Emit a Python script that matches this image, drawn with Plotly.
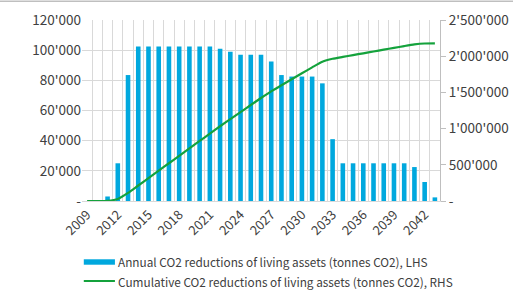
import plotly.graph_objects as go

years = list(range(2009, 2044))
annual = [0, 0, 3000, 25000, 83500,
          102500, 102500, 102500, 102500, 102500, 102500, 102500, 102500,
          101000, 99000, 97000, 97000, 97000, 92500, 83500,
          82500, 82500, 82500, 78000, 41000,
          25000, 25000, 25000, 25000, 25000, 25000, 25000,
          22500, 12600, 2400]
cumulative = [0, 0, 3000, 28000, 111500, 214000, 316500, 419000, 521500,
              624000, 726500, 829000, 931500, 1032500, 1131500, 1228500,
              1325500, 1422500, 1515000, 1598500, 1681000, 1763500, 1846000,
              1924000, 1965000, 1990000, 2015000, 2040000, 2065000, 2090000,
              2115000, 2140000, 2162500, 2175100, 2177500]
x_ticks = list(range(2009, 2043, 3))
lhs_ticks = [0, 20000, 40000, 60000, 80000, 100000, 120000]
lhs_text = ["-", "20'000", "40'000", "60'000", "80'000", "100'000", "120'000"]
rhs_ticks = [0, 500000, 1000000, 1500000, 2000000, 2500000]
rhs_text = ["-", "500'000", "1'000'000", "1'500'000", "2'000'000", "2'500'000"]
name_bar = "Annual CO2 reductions of living assets (tonnes CO2), LHS"
name_line = "Cumulative CO2 reductions of living assets (tonnes CO2), RHS"

BLUE = "#00A8DE"
GREEN = "#14A23C"
GRID = "#D9D9D9"
TXT = "#404040"
FONT = "Noto Sans CJK JP"

fig = go.Figure()
fig.add_trace(go.Bar(x=years, y=annual, name=name_bar, marker_color=BLUE,
                     marker_line_width=0, width=0.45, showlegend=False))
fig.add_trace(go.Scatter(x=years, y=cumulative, name=name_line, yaxis="y2",
                         mode="lines", line=dict(color=GREEN, width=2.2, shape="spline", smoothing=0.6),
                         showlegend=False))

fig.update_layout(
    width=513, height=292,
    margin=dict(l=82, r=73, t=20, b=91, autoexpand=False),
    paper_bgcolor="white", plot_bgcolor="white",
    font=dict(family=FONT, color=TXT, size=13),
    xaxis=dict(range=[2008.5, 2043.5], tickvals=x_ticks, tickformat="d", automargin=False,
               tickangle=-45, showgrid=False, showline=True, linecolor=GRID,
               linewidth=1, ticks="", zeroline=False, tickfont=dict(size=13, color=TXT),
               minor=dict(dtick=1, tick0=2008.5, showgrid=True, gridcolor=GRID, gridwidth=1)),
    yaxis=dict(range=[0, 120000], tickvals=lhs_ticks, ticktext=lhs_text, automargin=False,
               showgrid=True, gridcolor=GRID, gridwidth=1, zeroline=False,
               showline=False, ticks="", ticklen=0, tickfont=dict(size=13.5, color=TXT)),
    yaxis2=dict(range=[0, 2500000], tickvals=rhs_ticks, ticktext=rhs_text, automargin=False,
                overlaying="y", side="right", showgrid=False, zeroline=False,
                showline=True, linecolor="#BFBFBF", linewidth=1, ticks="outside",
                ticklen=5, tickcolor="#BFBFBF", tickfont=dict(size=13.5, color=TXT)),
    bargap=0.5,
)

# top border line
fig.add_shape(type="line", xref="paper", yref="paper", x0=-0.3, x1=1.3, y0=1.104, y1=1.104,
              line=dict(color="#BFBFBF", width=1.5))

# manual legend
leg_y1 = -0.337
leg_y2 = -0.442
fig.add_shape(type="rect", xref="paper", yref="paper",
              x0=0.005, x1=0.092, y0=leg_y1 - 0.015, y1=leg_y1 + 0.015,
              fillcolor=BLUE, line=dict(width=0))
fig.add_shape(type="line", xref="paper", yref="paper",
              x0=0.005, x1=0.092, y0=leg_y2, y1=leg_y2,
              line=dict(color=GREEN, width=2))
fig.add_annotation(text=name_bar, xref="paper", yref="paper", x=0.095, y=leg_y1,
                   xanchor="left", yanchor="middle", showarrow=False,
                   font=dict(size=11.8, color=TXT, family=FONT))
fig.add_annotation(text=name_line, xref="paper", yref="paper", x=0.095, y=leg_y2,
                   xanchor="left", yanchor="middle", showarrow=False,
                   font=dict(size=11.8, color=TXT, family=FONT))

fig.write_html("out.html", config={"displayModeBar": False},
               post_script="document.body.style.margin='0';document.body.style.overflow='hidden';")
